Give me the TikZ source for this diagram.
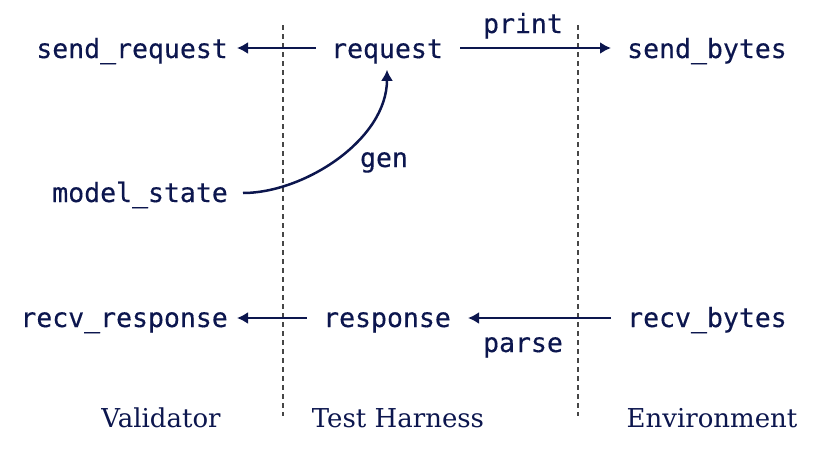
\documentclass[tikz,border=0pt]{standalone}
\usepackage{fontspec}
\setmainfont{DejaVu Serif}
\newfontfamily\codefont[FakeBold=0.3]{DejaVu Sans Mono}
\usetikzlibrary{arrows.meta}
\definecolor{navy}{RGB}{12,22,78}
\definecolor{dashgray}{RGB}{70,70,70}
\begin{document}
\begin{tikzpicture}[x=1pt,y=-1pt,
  code/.style={inner sep=0pt,text=navy,font=\fontsize{26.5}{30}\codefont},
  lab/.style={inner sep=0pt,text=navy,font=\fontsize{26}{30}\selectfont},
  conn/.style={draw=navy,line width=2.5pt,-{Latex[length=11pt,width=12pt]}},
  sep/.style={draw=dashgray,line width=1.6pt,dash pattern=on 5pt off 4pt}]
\useasboundingbox (0,0) rectangle (814,450);
% separators
\coordinate (s1t) at (283,25); \coordinate (s1b) at (283,416);
\coordinate (s2t) at (578,25); \coordinate (s2b) at (578,416);
\draw[sep] (s1t) -- (s1b);
\draw[sep] (s2t) -- (s2b);
% nodes
\node[code,anchor=base east] (sreq) at (228,58) {send\_request};
\node[code,anchor=base] (req) at (387,58) {request};
\node[code,anchor=base west] (sbytes) at (627,58) {send\_bytes};
\node[code,anchor=base east] (mstate) at (228,202) {model\_state};
\node[code,anchor=base east] (rresp) at (228,327) {recv\_response};
\node[code,anchor=base] (resp) at (387,327) {response};
\node[code,anchor=base west] (rbytes) at (627,327) {recv\_bytes};
\node[code,anchor=base] (print) at (523,33) {print};
\node[code,anchor=base] (gen) at (384,167) {gen};
\node[code,anchor=base] (parse) at (523,352) {parse};
\node[lab,anchor=base] (val) at (161,427) {Validator};
\node[lab,anchor=base] (th) at (398,427) {Test Harness};
\node[lab,anchor=base] (env) at (712,427) {Environment};
% connectors
\draw[conn,shorten <=15pt,shorten >=9pt] (req.west|-0,48) -- (sreq.east|-0,48);
\draw[conn,shorten <=17pt,shorten >=16pt] (req.east|-0,48) -- (sbytes.west|-0,48);
\draw[conn,shorten <=16pt,shorten >=17pt] (rbytes.west|-0,318) -- (resp.east|-0,318);
\draw[conn,shorten <=16pt,shorten >=9pt] (resp.west|-0,318) -- (rresp.east|-0,318);
\draw[conn,shorten <=15pt,shorten >=6pt] (mstate.east|-0,193) to[out=0,in=-90,looseness=0.95] (req.south);
\end{tikzpicture}
\end{document}
